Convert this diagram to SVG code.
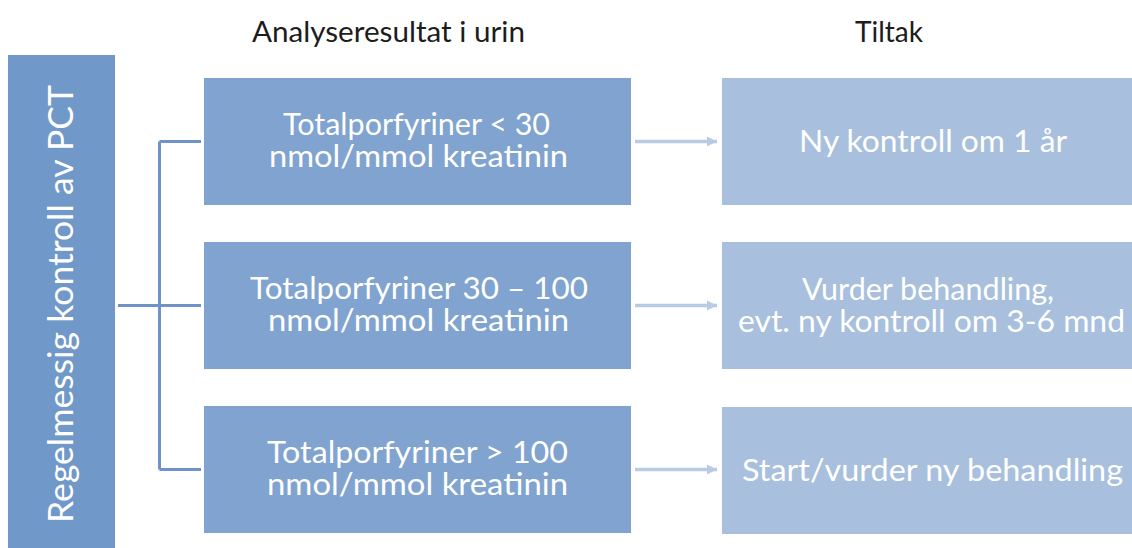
<svg xmlns="http://www.w3.org/2000/svg" width="1132" height="548" viewBox="0 0 1132 548">
  <defs>
    <style>
      .head { font-family: Lato, "Open Sans", sans-serif; font-size: 28.5px; fill: #1c1c1c; text-anchor: middle; }
      .bt { font-family: Lato, "Open Sans", sans-serif; font-size: 31px; fill: #ffffff; text-anchor: middle; }
      .vt { font-family: Lato, "Open Sans", sans-serif; font-size: 35px; fill: #ffffff; text-anchor: middle; }
      .left { fill: #7098c9; }
      .mid { fill: #80a3cf; }
      .right { fill: #a8c0dd; }
      .br { stroke: #6f93c6; stroke-width: 3; fill: none; }
      .ar { stroke: #b9cbe3; stroke-width: 3.5; fill: none; }
    </style>
    <marker id="ah" viewBox="0 0 10 10" refX="10" refY="5" markerWidth="10" markerHeight="11" markerUnits="userSpaceOnUse" orient="auto">
      <path d="M0,0 L10,5 L0,10 Z" fill="#b9cbe3"/>
    </marker>
  </defs>
  <rect width="1132" height="548" fill="#ffffff"/>

  <g id="headings">
    <text class="head" x="388.5" y="42" textLength="273" lengthAdjust="spacingAndGlyphs">Analyseresultat i urin</text>
    <text class="head" x="889" y="42" textLength="68" lengthAdjust="spacingAndGlyphs">Tiltak</text>
  </g>

  <g id="root">
    <rect class="left" x="8" y="55" width="107" height="500"/>
    <text class="vt" transform="translate(73,304) rotate(-90)" x="0" y="0" textLength="438" lengthAdjust="spacingAndGlyphs">Regelmessig kontroll av PCT</text>
  </g>

  <g id="connectors">
    <path class="br" d="M118,305.5 H159.5 M159.5,141.5 V469.5 M159.5,141.5 H201 M159.5,305.5 H201 M159.5,469.5 H201"/>
    <line class="ar" x1="635" y1="141.5" x2="717" y2="141.5" marker-end="url(#ah)"/>
    <line class="ar" x1="635" y1="305.5" x2="717" y2="305.5" marker-end="url(#ah)"/>
    <line class="ar" x1="635" y1="469.5" x2="717" y2="469.5" marker-end="url(#ah)"/>
  </g>

  <g id="m1">
    <rect class="mid" x="204" y="78" width="427" height="127"/>
    <text class="bt" x="416.5" y="135" textLength="267" lengthAdjust="spacingAndGlyphs">Totalporfyriner &lt; 30</text>
    <text class="bt" x="418.5" y="167" textLength="299" lengthAdjust="spacingAndGlyphs">nmol/mmol kreatinin</text>
  </g>
  <g id="m2">
    <rect class="mid" x="204" y="242" width="427" height="127"/>
    <text class="bt" x="419" y="298.5" textLength="338" lengthAdjust="spacingAndGlyphs">Totalporfyriner 30 – 100</text>
    <text class="bt" x="418.5" y="330.5" textLength="301" lengthAdjust="spacingAndGlyphs">nmol/mmol kreatinin</text>
  </g>
  <g id="m3">
    <rect class="mid" x="204" y="406" width="427" height="127"/>
    <text class="bt" x="417.5" y="462.5" textLength="301" lengthAdjust="spacingAndGlyphs">Totalporfyriner  &gt; 100</text>
    <text class="bt" x="417.5" y="494.5" textLength="301" lengthAdjust="spacingAndGlyphs">nmol/mmol kreatinin</text>
  </g>

  <g id="r1">
    <rect class="right" x="722" y="78" width="420" height="127"/>
    <text class="bt" x="933" y="151.5" textLength="268" lengthAdjust="spacingAndGlyphs">Ny kontroll om 1 år</text>
  </g>
  <g id="r2">
    <rect class="right" x="722" y="242" width="420" height="127"/>
    <text class="bt" x="928" y="299.5" textLength="252" lengthAdjust="spacingAndGlyphs">Vurder behandling,</text>
    <text class="bt" x="931.5" y="331.5" textLength="387" lengthAdjust="spacingAndGlyphs">evt. ny kontroll om 3-6 mnd</text>
  </g>
  <g id="r3">
    <rect class="right" x="722" y="407" width="420" height="127"/>
    <text class="bt" x="932.5" y="481" textLength="381" lengthAdjust="spacingAndGlyphs">Start/vurder ny behandling</text>
  </g>
</svg>
